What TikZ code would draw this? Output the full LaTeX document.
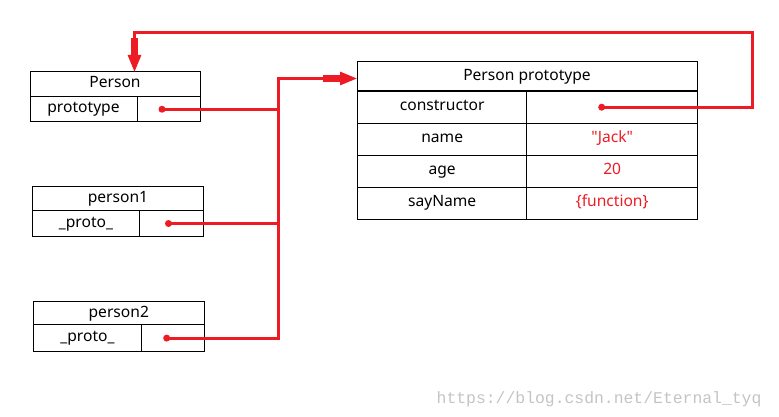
\documentclass[tikz,border=0pt]{standalone}
\usepackage{fontspec}
\setmainfont{Noto Sans}
\newfontfamily\wmfont{Liberation Mono}
\usepackage{tikz}
\usetikzlibrary{arrows.meta,matrix,positioning}
\definecolor{pred}{HTML}{ED1C24}
\definecolor{wmgray}{HTML}{C4C4C4}
\tikzset{cell/.style={draw,line width=1pt,inner sep=0pt,outer sep=0pt,
           text height=11pt,text depth=3.5pt},
         dot/.style={circle,fill=pred,inner sep=0pt,minimum size=7pt},
         link/.style={draw=pred,line width=3pt},
         pointer/.style={link,-{Rectangle[length=17pt,width=7pt,sep=0pt]
           Triangle[length=17pt,width=13pt]}}}

\begin{document}
\begin{tikzpicture}[x=1pt,y=-1pt,font=\fontsize{15.6pt}{18pt}\selectfont]
  \useasboundingbox (0,0) rectangle (779,417);
  % constructor objects
  \node[cell,minimum width=170pt,minimum height=24.5pt] (pn) at (115,84.25) {Person};
  \node[cell,anchor=north west,minimum width=107pt,minimum height=25.5pt] (pnk)
    at (pn.south west) {prototype};
  \node[cell,right=0pt of pnk,minimum width=63pt,minimum height=25.5pt] (pnv) {};

  \node[cell,minimum width=171pt,minimum height=24.2pt] (p1) at (118,198.6) {person1};
  \node[cell,anchor=north west,minimum width=107pt,minimum height=25.6pt] (p1k)
    at (p1.south west) {\_proto\_};
  \node[cell,right=0pt of p1k,minimum width=64pt,minimum height=25.6pt] (p1v) {};

  \node[cell,minimum width=171pt,minimum height=23.3pt] (p2) at (118.8,313.3) {person2};
  \node[cell,anchor=north west,minimum width=108.4pt,minimum height=26.3pt] (p2k)
    at (p2.south west) {\_proto\_};
  \node[cell,right=0pt of p2k,minimum width=62.6pt,minimum height=26.3pt] (p2v) {};

  % prototype object
  \node[cell,minimum width=340pt,minimum height=29pt] (pt) at (527,76.5) {Person prototype};
  \matrix (m) [matrix of nodes, nodes in empty cells, anchor=north west,
    inner sep=0pt, row sep=-1pt, column sep=-1pt,
    nodes={cell,minimum height=32pt},
    column 1/.style={nodes={minimum width=169pt}},
    column 2/.style={nodes={minimum width=171pt,text=pred}}]
    at ([yshift=0.5pt]pt.south west) {
      constructor & \\
      name & \textquotedbl Jack\textquotedbl \\
      age & 20 \\
      sayName & \{function\} \\
    };

  \node[dot] (d0) at ([xshift=25pt]pnv.west) {};
  \node[dot] (d1) at ([xshift=29pt]p1v.west) {};
  \node[dot] (d2) at ([xshift=25pt]p2v.west) {};
  \node[dot] (dc) at ([xshift=75pt]m-1-2.west) {};
  \coordinate (bt) at (278,78.5);
  \coordinate (cr) at (752,32.5);
  \coordinate (ptop) at ([xshift=19.5pt]pn.north);

  \draw[link] (d0.center) -- (d0 -| bt);
  \draw[link] (d1.center) -- (d1 -| bt);
  \draw[pointer] (d2.center) -| (bt) -- (bt -| pt.west);
  \draw[pointer] (dc.center) -| (cr) -| (ptop);

  \node[anchor=base east,font=\wmfont\fontsize{16.4pt}{18pt}\selectfont,text=wmgray] (wm)
    at (765,403) {https://blog.csdn.net/Eternal\_tyq};
\end{tikzpicture}
\end{document}
